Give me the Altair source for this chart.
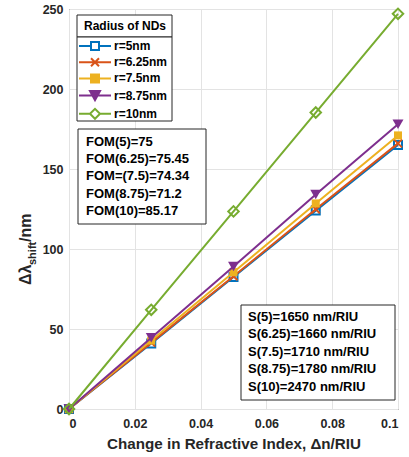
import altair as alt
import pandas as pd

# ---------------- data ----------------
dn = [0, 0.025, 0.05, 0.075, 0.1]
series_names = ["r=5nm", "r=6.25nm", "r=7.5nm", "r=8.75nm", "r=10nm"]
shift_r5 = [0, 41.0, 82.5, 124.0, 165.0]
shift_r625 = [0, 41.5, 83.0, 124.8, 166.0]
shift_r75 = [0, 42.8, 85.5, 128.5, 171.0]
shift_r875 = [0, 44.5, 89.0, 134.0, 178.0]
shift_r10 = [0, 62.0, 123.5, 185.3, 247.0]
all_shifts = [shift_r5, shift_r625, shift_r75, shift_r875, shift_r10]

colors = ["#0072BD", "#D95319", "#EDB120", "#7E2F8E", "#77AC30"]
x_ticks = [0, 0.02, 0.04, 0.06, 0.08, 0.1]
y_ticks = [0, 50, 100, 150, 200, 250]
x_title = "Change in Refractive Index, Δn/RIU"
legend_title = "Radius of NDs"
fom_lines = ["FOM(5)=75", "FOM(6.25)=75.45", "FOM=(7.5)=74.34", "FOM(8.75)=71.2", "FOM(10)=85.17"]
s_lines = ["S(5)=1650 nm/RIU", "S(6.25)=1660 nm/RIU", "S(7.5)=1710 nm/RIU",
           "S(8.75)=1780 nm/RIU", "S(10)=2470 nm/RIU"]

rows = []
for name, vals in zip(series_names, all_shifts):
    for xv, yv in zip(dn, vals):
        rows.append({"dn": xv, "shift": yv, "series": name})
df = pd.DataFrame(rows)
one = pd.DataFrame({"k": [0]})

FONT = "Liberation Sans"
INK = "#262626"

x_enc = alt.X("dn:Q", scale=alt.Scale(domain=[0, 0.1], nice=False),
              axis=alt.Axis(values=x_ticks, format="~g", title=x_title,
                            labelPadding=8, titlePadding=7))
y_enc = alt.Y("shift:Q", scale=alt.Scale(domain=[0, 250], nice=False),
              axis=alt.Axis(values=y_ticks, title=None, labelPadding=6))

marker_defs = [
    dict(shape="square", filled=False, size=64),
    dict(shape="M-1,-1L1,1M-1,1L1,-1", filled=False, size=64),
    dict(shape="square", filled=True, size=64),
    dict(shape="triangle-down", filled=True, size=120),
    dict(shape="diamond", filled=False, size=110),
]

layers = []
for name, col, m in zip(series_names, colors, marker_defs):
    layers.append(
        alt.Chart(df)
        .transform_filter(alt.datum.series == name)
        .mark_line(color=col, strokeWidth=2,
                   point=alt.OverlayMarkDef(color=col, opacity=1, strokeWidth=2, **m))
        .encode(x=x_enc, y=y_enc)
    )

# ---------- legend (native, box drawn separately) ----------
legend_paths = [
    "M-3.2,0H-0.8M0.8,0H3.2M-0.8,-0.8H0.8V0.8H-0.8Z",
    "M-3.2,0H3.2M-0.8,-0.8L0.8,0.8M-0.8,0.8L0.8,-0.8",
    "M-3.2,0H3.2M-0.8,-0.8H0.8V0.8H-0.8Z",
    "M-3.2,0H3.2M-1,-0.9H1L0,0.9Z",
    "M-3.2,0H-1M1,0H3.2M-1,0L0,-1L1,0L0,1Z",
]
legend_fills = ["white", colors[1], colors[2], colors[3], "white"]

leg = alt.Legend(orient="none", legendX=8, legendY=31, title=None,
                 padding=0, symbolSize=100, symbolStrokeWidth=2,
                 symbolOffset=12, labelOffset=13, rowPadding=0.2,
                 labelFont=FONT, labelFontSize=12, labelFontWeight="bold",
                 labelColor="black", symbolOpacity=1)

legend_layer = (
    alt.Chart(df)
    .transform_filter("false")
    .mark_point(opacity=1, strokeWidth=2, filled=False)
    .encode(
        stroke=alt.Stroke("series:N", scale=alt.Scale(domain=series_names, range=colors), legend=leg),
        fill=alt.Fill("series:N", scale=alt.Scale(domain=series_names, range=legend_fills), legend=leg),
        shape=alt.Shape("series:N", scale=alt.Scale(domain=series_names, range=legend_paths), legend=leg),
    )
)


def box(x1, x2, y1, y2):
    return alt.Chart(one).mark_rect(fill="white", stroke=INK, strokeWidth=1).encode(
        x=alt.value(x1), x2=alt.value(x2), y=alt.value(y1), y2=alt.value(y2))


legend_title_box = box(8, 103, 6, 28)
legend_entries_box = box(8, 103, 28, 112)
legend_title_text = alt.Chart(one).mark_text(
    text=legend_title, font=FONT, fontSize=12, fontWeight="bold", color="black",
    align="center", baseline="middle").encode(x=alt.value(56), y=alt.value(17))

fom_box = box(9, 137, 120, 215)
fom_text = alt.Chart(one).mark_text(
    text=fom_lines, lineHeight=17.2, font=FONT, fontSize=13, fontWeight="bold",
    color="black", align="left", baseline="top").encode(x=alt.value(17), y=alt.value(127))

s_box = box(172, 326, 296, 391)
s_text = alt.Chart(one).mark_text(
    text=s_lines, lineHeight=17.4, font=FONT, fontSize=13, fontWeight="bold",
    color="black", align="left", baseline="top").encode(x=alt.value(179), y=alt.value(302))

# ---------- y axis title with subscript ----------
def ytxt(t, size, xpos, ypos):
    return alt.Chart(one).mark_text(
        text=t, angle=270, font=FONT, fontSize=size, fontWeight="bold", color=INK,
        align="left", baseline="alphabetic").encode(x=alt.value(xpos), y=alt.value(ypos))


ytitle = ytxt("Δλ", 16, -38, 276) + ytxt("shift", 11, -33, 256) + ytxt("/nm", 16, -38, 233)

chart = alt.layer(
    *layers, legend_title_box, legend_entries_box, legend_title_text,
    fom_box, fom_text, s_box, s_text, ytitle, legend_layer
).properties(
    width=329, height=400,
    autosize=alt.AutoSizeParams(type="none"),
    padding={"left": 69, "top": 9, "right": 11, "bottom": 48},
).configure_view(
    stroke=INK, strokeWidth=1
).configure_axis(
    grid=True, gridColor="#e3e3e3", gridWidth=1, domain=False, ticks=False,
    labelFont=FONT, labelFontSize=12.5, labelFontWeight="bold", labelColor=INK,
    titleFont=FONT, titleFontSize=15.2, titleFontWeight="bold", titleColor=INK,
)

chart.save("out.html", embed_options={"renderer": "svg", "actions": False})
